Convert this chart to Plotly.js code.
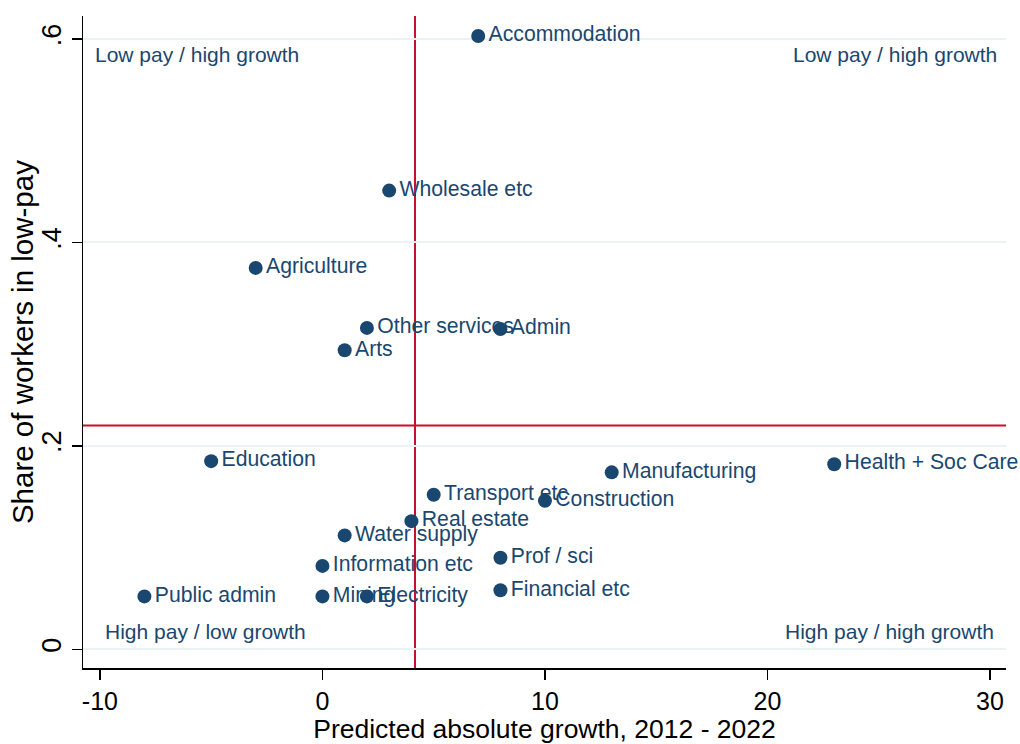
<!DOCTYPE html>
<html>
<head>
<meta charset="utf-8">
<script src="https://cdn.plot.ly/plotly-3.0.1.min.js"></script>
<style>html,body{margin:0;padding:0;background:#fff;}#chart{width:1020px;height:744px;}</style>
</head>
<body>
<div id="chart"></div>
<script>
const sectors = ["Accommodation","Wholesale etc","Agriculture","Other services","Admin","Arts",
  "Education","Health + Soc Care","Manufacturing","Transport etc","Construction","Real estate",
  "Water supply","Prof / sci","Information etc","Financial etc","Public admin","Mining","Electricity"];
const growth = [7, 3, -3, 2, 8, 1, -5, 23, 13, 5, 10, 4, 1, 8, 0, 8, -8, 0, 2];
const lowPayShare = [0.603, 0.451, 0.375, 0.316, 0.315, 0.294, 0.185, 0.182, 0.174, 0.152, 0.146, 0.126,
  0.112, 0.090, 0.082, 0.058, 0.052, 0.052, 0.052];
const growthThreshold = 4.16;
const lowPayThreshold = 0.22;
const xTickVals = [-10, 0, 10, 20, 30];
const xTickText = ["-10", "0", "10", "20", "30"];
const yTickVals = [0, 0.2, 0.4, 0.6];
const yTickText = ["0", ".2", ".4", ".6"];
const quadrantLabels = ["Low pay / high growth", "Low pay / high growth", "High pay / low growth", "High pay / high growth"];
const xTitle = "Predicted absolute growth, 2012 - 2022";
const yTitle = "Share of workers in low-pay";

const navy = "#1a476f";
const font = "Liberation Sans, Arial, Helvetica, sans-serif";

const textTrace = {
  type: "scatter", mode: "markers+text", x: growth, y: lowPayShare, text: sectors,
  textposition: "middle right", cliponaxis: false,
  textfont: {family: font, size: 21.2, color: navy},
  marker: {size: 15, color: "rgba(0,0,0,0)", line: {width: 0}}, hoverinfo: "skip", showlegend: false
};
const markerTrace = {
  type: "scatter", mode: "markers", x: growth, y: lowPayShare,
  marker: {size: 14, color: navy, line: {width: 0}}, cliponaxis: false, showlegend: false
};

const layout = {
  width: 1020, height: 744,
  margin: {l: 83, r: 14, t: 16, b: 76},
  paper_bgcolor: "#fff", plot_bgcolor: "#fff",
  font: {family: font, color: "#000"},
  showlegend: false,
  xaxis: {
    range: [-10.76, 30.72], tickvals: xTickVals, ticktext: xTickText,
    showgrid: false, zeroline: false,
    showline: true, linecolor: "#000", linewidth: 1.5,
    ticks: "outside", ticklen: 10, tickwidth: 1.5, tickcolor: "#000",
    tickfont: {family: font, size: 25, color: "#000"},
    title: {text: xTitle, font: {family: font, size: 26.5, color: "#000"}, standoff: 4}
  },
  yaxis: {
    range: [-0.0184, 0.6227], tickvals: yTickVals, ticktext: yTickText, tickangle: -90,
    showgrid: true, gridcolor: "#eaf2f3", gridwidth: 2, zeroline: false,
    showline: true, linecolor: "#000", linewidth: 1.5,
    ticks: "outside", ticklen: 10, tickwidth: 1.5, tickcolor: "#000",
    tickfont: {family: font, size: 27, color: "#000"}
  },
  shapes: [
    {type: "line", xref: "x", yref: "paper", x0: growthThreshold, x1: growthThreshold, y0: 0, y1: 1,
     line: {color: "#c8102e", width: 2}, layer: "between"},
    {type: "line", xref: "paper", yref: "y", x0: 0, x1: 1, y0: lowPayThreshold, y1: lowPayThreshold,
     line: {color: "#c8102e", width: 2}, layer: "between"}
  ],
  annotations: [
    {text: yTitle, xref: "paper", yref: "paper", x: -0.066, y: 0.5, xanchor: "center", yanchor: "middle", textangle: -90, showarrow: false, font: {family: font, size: 29.5, color: "#000"}},
    {text: quadrantLabels[0], xref: "paper", yref: "paper", x: 0.011, y: 0.9417, xanchor: "left", yanchor: "middle", showarrow: false, font: {family: font, size: 21, color: navy}},
    {text: quadrantLabels[1], xref: "paper", yref: "paper", x: 0.9924, y: 0.9417, xanchor: "right", yanchor: "middle", showarrow: false, font: {family: font, size: 21, color: navy}},
    {text: quadrantLabels[2], xref: "paper", yref: "paper", x: 0.0217, y: 0.0567, xanchor: "left", yanchor: "middle", showarrow: false, font: {family: font, size: 21, color: navy}},
    {text: quadrantLabels[3], xref: "paper", yref: "paper", x: 0.989, y: 0.0567, xanchor: "right", yanchor: "middle", showarrow: false, font: {family: font, size: 21, color: navy}}
  ]
};

Plotly.newPlot("chart", [textTrace, markerTrace], layout, {displayModeBar: false, staticPlot: true});
</script>
</body>
</html>
